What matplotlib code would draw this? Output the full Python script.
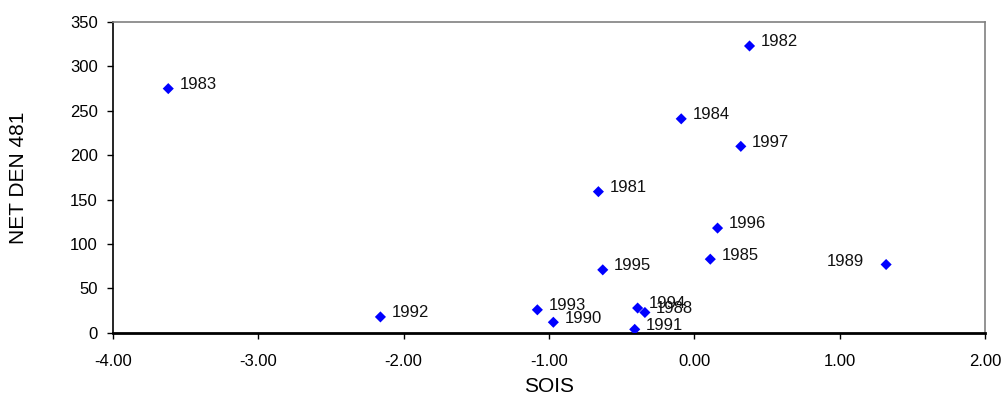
import matplotlib
matplotlib.use("Agg")
import matplotlib.pyplot as plt

plt.rcParams['font.family'] = ['Liberation Sans', 'DejaVu Sans']

years = ["1981", "1982", "1983", "1984", "1985", "1988", "1989", "1990", "1991",
         "1992", "1993", "1994", "1995", "1996", "1997"]
sois = [-0.66, 0.38, -3.62, -0.09, 0.11, -0.34, 1.32, -0.97, -0.41,
        -2.16, -1.08, -0.39, -0.63, 0.16, 0.32]
netden = [159, 323, 275, 241, 83, 23, 77, 12, 4,
          18, 26, 28, 71, 118, 210]

x_ticks = [-4, -3, -2, -1, 0, 1, 2]
y_ticks = [0, 50, 100, 150, 200, 250, 300, 350]

fig = plt.figure(figsize=(10.03, 4.05), dpi=100)
ax = fig.add_axes([0.1127, 0.178, 0.8693, 0.7677])

ax.scatter(sois, netden, marker='D', s=32, color='#0000ff', edgecolors='none', zorder=3)

for yr, x, y in zip(years, sois, netden):
    if yr == "1989":
        ax.annotate(yr, (x, y), xytext=(-16, 2), textcoords='offset points',
                    ha='right', va='center', fontsize=12, color='#111111')
    else:
        ax.annotate(yr, (x, y), xytext=(8, 3), textcoords='offset points',
                    ha='left', va='center', fontsize=12, color='#111111')

ax.set_xlim(-4, 2)
ax.set_ylim(0, 350)
ax.set_xticks(x_ticks)
ax.set_xticklabels([f"{v:.2f}" for v in x_ticks])
ax.set_yticks(y_ticks)
ax.set_yticklabels([str(v) for v in y_ticks])
ax.tick_params(axis='both', direction='out', length=4, width=1, labelsize=12, colors='black')
ax.tick_params(axis='x', pad=11)
ax.tick_params(axis='y', pad=7)

for s in ['top', 'right']:
    ax.spines[s].set_color('#808080')
    ax.spines[s].set_linewidth(1.2)
ax.spines['left'].set_color('black')
ax.spines['left'].set_linewidth(1.2)
ax.spines['bottom'].set_color('black')
ax.spines['bottom'].set_linewidth(2)

ax.set_xlabel("SOIS", fontsize=15, labelpad=6)
ax.set_ylabel("NET DEN 481", fontsize=15, labelpad=30)

fig.savefig("out.png", dpi=100)
